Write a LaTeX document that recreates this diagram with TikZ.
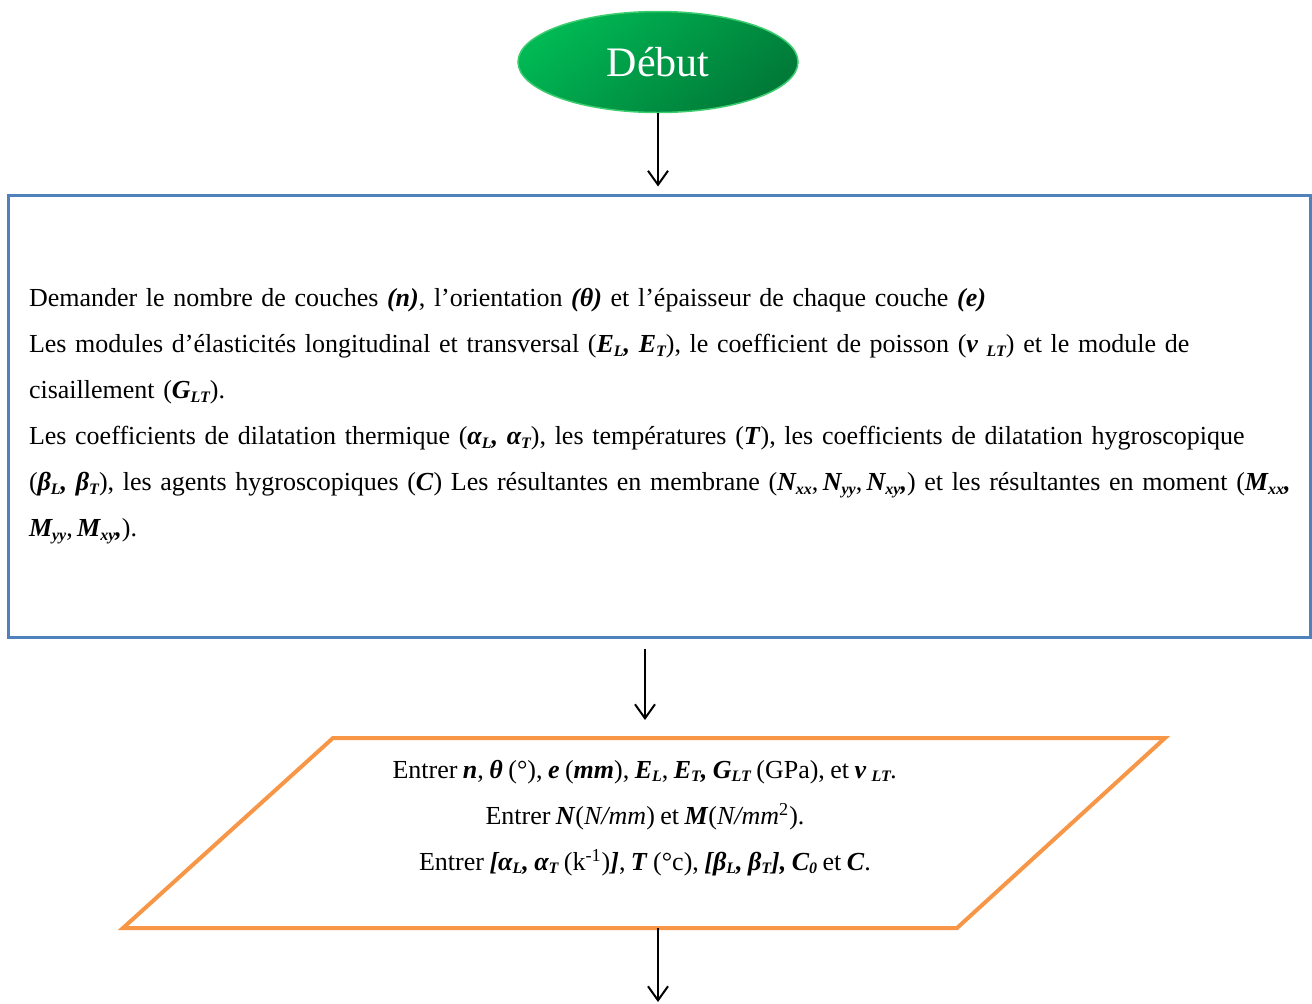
\documentclass[tikz,border=0pt]{standalone}
\usepackage{fontspec}
\setmainfont{Liberation Serif}[WordSpace=0.84]
\usepackage{xcolor}
\usetikzlibrary{
  arrows.meta,
  shapes.geometric
}
\definecolor{debutclair}{RGB}{0,184,84}
\definecolor{debutfonce}{RGB}{0,122,56}
\definecolor{debutbord}{RGB}{60,205,110}
\definecolor{bleubord}{RGB}{79,129,189}
\definecolor{orangebord}{RGB}{247,150,70}
\newcommand{\grasit}[1]{\textbf{\textit{#1}}}
\newcommand{\indice}[1]{\raisebox{-0.3ex}{\fontsize{8}{8}\selectfont #1}}

\begin{document}
\begin{tikzpicture}[x=0.5pt, y=-0.5pt,
  every node/.style = {font=\fontsize{13}{23}\selectfont}]
  \tikzstyle{debutnode}=[ellipse, draw=debutbord, line width=0.75pt,
    top color=debutclair, bottom color=debutfonce, shading angle=40,
    minimum width=140pt, minimum height=50.5pt, inner sep=0pt,
    text=white, font=\fontsize{21}{21}\selectfont]
  \tikzstyle{donneesbox}=[rectangle, draw=bleubord, line width=1.5pt,
    minimum width=651pt, minimum height=221pt, text width=630pt,
    inner xsep=10.5pt, align=left]
  \tikzstyle{entreebord}=[draw=orangebord, line width=2pt, line join=miter]
  \tikzstyle{fleche}=[draw, line width=1pt,
    -{Straight Barb[length=7pt, width=10pt]}]
  \useasboundingbox (0,0) rectangle (1312,1003);

  \node[debutnode] (debut) at (658,62) {Début};
  \node[donneesbox] (donnees) at (659,416) {Demander le nombre de couches \grasit{(n)}, l’orientation \grasit{(θ)} et l’épaisseur de chaque couche \grasit{(e)}\\
    Les modules d’élasticités longitudinal et transversal (\grasit{E\indice{L}, E\indice{T}}), le coefficient de poisson (\grasit{ν \indice{LT}}) et le module de\\
    cisaillement (\grasit{G\indice{LT}}).\\
    Les coefficients de dilatation thermique (\grasit{α\indice{L}, α\indice{T}}), les températures (\grasit{T}), les coefficients de dilatation hygroscopique\\
    \mbox{(\grasit{β\indice{L}, β\indice{T}}), les agents hygroscopiques (\grasit{C}) Les résultantes en membrane (\grasit{N\indice{xx}},\,\grasit{N\indice{yy}},\,\grasit{N\indice{xy},}) et les résultantes en moment (\grasit{M\indice{xx},}}\\
    \grasit{M\indice{yy}},\,\grasit{M\indice{xy},}).};

  \coordinate (pbg) at (123,928);
  \coordinate (phg) at (333,738);
  \coordinate (phd) at (1165,738);
  \coordinate (pbd) at (957,928);
  \coordinate (phaut) at (645,738);
  \coordinate (pbas) at (658,928);
  \coordinate (fin) at (658,1002);
  \path[entreebord] (pbg) -- (phg) -- (phd) -- (pbd) -- cycle;
  \node[align=center] (entree) at (645,818) {Entrer \grasit{n}, \grasit{θ} (°), \grasit{e} (\grasit{mm}), \grasit{E\indice{L}}, \grasit{E\indice{T}, G\indice{LT}} (GPa), et \grasit{ν \indice{LT}}\textit{.}\\
    Entrer \grasit{N}(\textit{N/mm}) et \grasit{M}(\textit{N/mm}\textsuperscript{2}).\\
    Entrer \grasit{[α\indice{L}, α\indice{T}} (k\textsuperscript{-1})\grasit{]}, \grasit{T} (°c), \grasit{[β\indice{L}, β\indice{T}],} \grasit{C\indice{0}} et \grasit{C}.};

  \draw[fleche, shorten >=3.5pt] (debut.south) -- (debut.south |- donnees.north);
  \draw[fleche, shorten <=5pt, shorten >=9pt] (donnees.south -| phaut) -- (phaut);
  \draw[fleche] (pbas) -- (fin);
\end{tikzpicture}
\end{document}
